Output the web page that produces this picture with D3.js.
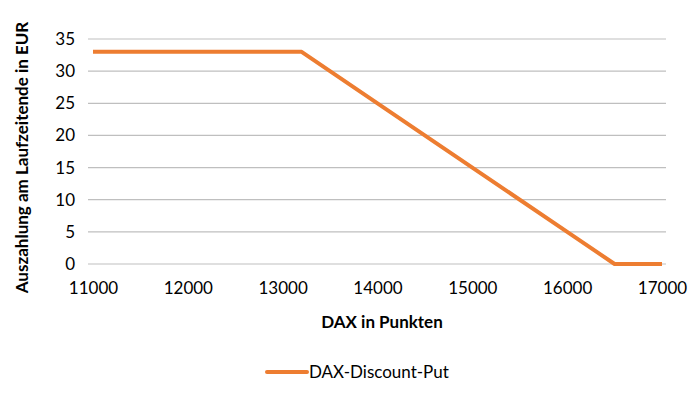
<!DOCTYPE html>
<html>
<head>
<meta charset="utf-8">
<script src="https://cdn.jsdelivr.net/npm/d3@7"></script>
<style>
  body { margin: 0; background: #fff; }
  text { font-family: Lato, "Open Sans", sans-serif; fill: #000; }
</style>
</head>
<body>
<div id="wrapper"></div>
<script>
// ---------- DATA ----------
const dax = [11000, 12000, 13000, 13200, 14000, 15000, 16000, 16500, 17000];
const payout = [33, 33, 33, 33, 25, 15, 5, 0, 0];
const xTicks = [11000, 12000, 13000, 14000, 15000, 16000, 17000];
const yTicks = [0, 5, 10, 15, 20, 25, 30, 35];
const seriesName = "DAX-Discount-Put";

// ---------- DIMENSIONS ----------
const dimensions = {
  width: 700,
  height: 399,
  margin: { top: 39, right: 38, bottom: 135, left: 93 },
};
dimensions.boundedWidth = dimensions.width - dimensions.margin.left - dimensions.margin.right;
dimensions.boundedHeight = dimensions.height - dimensions.margin.top - dimensions.margin.bottom;

const svg = d3.select("#wrapper").append("svg")
  .attr("width", dimensions.width)
  .attr("height", dimensions.height);

const bounds = svg.append("g")
  .attr("transform", `translate(${dimensions.margin.left},${dimensions.margin.top})`);

// ---------- SCALES ----------
const xScale = d3.scaleLinear().domain([11000, 17000]).range([0, dimensions.boundedWidth]);
const yScale = d3.scaleLinear().domain([0, 35]).range([dimensions.boundedHeight, 0]);

// gridlines
bounds.append("g")
  .selectAll("line")
  .data(yTicks)
  .join("line")
  .attr("x1", -5)
  .attr("x2", dimensions.boundedWidth + 4)
  .attr("y1", d => yScale(d))
  .attr("y2", d => yScale(d))
  .attr("stroke", "#bfbfbf")
  .attr("stroke-width", 1.2);

// y axis labels
const yAxis = bounds.append("g")
  .call(d3.axisLeft(yScale).tickValues(yTicks).tickSize(0).tickPadding(18));
yAxis.select(".domain").remove();
yAxis.selectAll("text").style("font-size", "17px").style("font-family", "Lato, sans-serif");

// x axis labels
const xAxis = bounds.append("g")
  .attr("transform", `translate(0,${dimensions.boundedHeight})`)
  .call(d3.axisBottom(xScale).tickValues(xTicks).tickFormat(d3.format("d")).tickSize(0).tickPadding(18));
xAxis.select(".domain").remove();
xAxis.selectAll("text").style("font-size", "17px").style("font-family", "Lato, sans-serif");

// line
const lineGen = d3.line()
  .x((d, i) => xScale(dax[i]))
  .y(d => yScale(d));

bounds.append("path")
  .datum(payout)
  .attr("fill", "none")
  .attr("stroke", "#ED7D31")
  .attr("stroke-width", 4)
  .attr("stroke-linejoin", "round")
  .attr("d", lineGen);

// axis titles
svg.append("text")
  .attr("x", 382)
  .attr("y", 328)
  .attr("text-anchor", "middle")
  .style("font-size", "17px")
  .style("font-weight", "bold")
  .text("DAX in Punkten");

svg.append("text")
  .attr("transform", `translate(28,${dimensions.margin.top + dimensions.boundedHeight / 2 + 6}) rotate(-90)`)
  .attr("text-anchor", "middle")
  .style("font-size", "17px")
  .style("font-weight", "bold")
  .text("Auszahlung am Laufzeitende in EUR");

// legend
const legend = svg.append("g").attr("transform", "translate(267,372)");
legend.append("line")
  .attr("x1", 0).attr("x2", 40)
  .attr("stroke", "#ED7D31")
  .attr("stroke-width", 4)
  .attr("stroke-linecap", "round");
legend.append("text")
  .attr("x", 42)
  .attr("y", 6)
  .style("font-size", "17px")
  .text(seriesName);
</script>
</body>
</html>
